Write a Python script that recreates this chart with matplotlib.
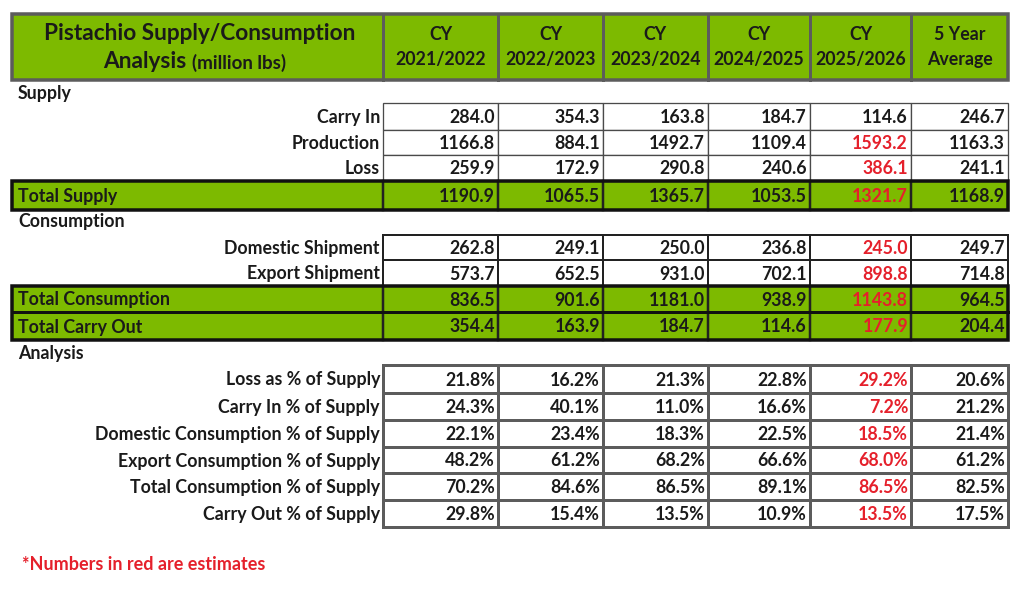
import matplotlib
matplotlib.use("Agg")
import matplotlib.pyplot as plt
from matplotlib.patches import Rectangle

plt.rcParams['font.family'] = ['Lato', 'DejaVu Sans']
plt.rcParams['font.weight'] = 'bold'

title_1 = "Pistachio Supply/Consumption"
title_2a = "Analysis"
title_2b = "(million lbs)"
col_top = ["CY", "CY", "CY", "CY", "CY", "5 Year"]
col_bottom = ["2021/2022", "2022/2023", "2023/2024", "2024/2025", "2025/2026", "Average"]

supply_labels = ["Carry In", "Production", "Loss"]
supply_values = [
    [284.0, 354.3, 163.8, 184.7, 114.6, 246.7],
    [1166.8, 884.1, 1492.7, 1109.4, 1593.2, 1163.3],
    [259.9, 172.9, 290.8, 240.6, 386.1, 241.1],
]
supply_red = [False, True, True]
total_supply = [1190.9, 1065.5, 1365.7, 1053.5, 1321.7, 1168.9]

consumption_labels = ["Domestic Shipment", "Export Shipment"]
consumption_values = [
    [262.8, 249.1, 250.0, 236.8, 245.0, 249.7],
    [573.7, 652.5, 931.0, 702.1, 898.8, 714.8],
]
total_consumption = [836.5, 901.6, 1181.0, 938.9, 1143.8, 964.5]
total_carry_out = [354.4, 163.9, 184.7, 114.6, 177.9, 204.4]

analysis_labels = ["Loss as % of Supply", "Carry In % of Supply",
                   "Domestic Consumption % of Supply", "Export Consumption % of Supply",
                   "Total Consumption % of Supply", "Carry Out % of Supply"]
analysis_values = [
    [21.8, 16.2, 21.3, 22.8, 29.2, 20.6],
    [24.3, 40.1, 11.0, 16.6, 7.2, 21.2],
    [22.1, 23.4, 18.3, 22.5, 18.5, 21.4],
    [48.2, 61.2, 68.2, 66.6, 68.0, 61.2],
    [70.2, 84.6, 86.5, 89.1, 86.5, 82.5],
    [29.8, 15.4, 13.5, 10.9, 13.5, 17.5],
]
estimate_col = 4
footnote = "*Numbers in red are estimates"

GREEN = '#7dba00'
RED = '#e5202b'
INK = '#1a1a1a'
GRAY = '#5c5c5c'
FS = 12.8

x_left = 12
edges = [383, 498, 603, 708, 810, 911, 1008]
PX = 0.72  # points per pixel

fig = plt.figure(figsize=(10.24, 5.97), dpi=100)
ax = fig.add_axes([0, 0, 1, 1])
ax.set_xlim(0, 1024)
ax.set_ylim(597, 0)
ax.axis('off')


def box(x0, y0, x1, y1, fc, ec, lw, z=1):
    ax.add_patch(Rectangle((x0, y0), x1 - x0, y1 - y0, facecolor=fc,
                           edgecolor=ec, linewidth=lw * PX, zorder=z))


def values_row(y0, y1, vals, red, fmt, fc, ec, lw):
    for i, v in enumerate(vals):
        box(edges[i], y0, edges[i + 1], y1, fc, ec, lw, z=2)
        c = RED if (red and i == estimate_col) else INK
        ax.text(edges[i + 1] - 3, (y0 + y1) / 2 + 1, fmt.format(v), ha='right',
                va='center', fontsize=FS, color=c, zorder=5)


# header
box(x_left, 14, edges[-1], 80, GREEN, GRAY, 3.5)
for e in edges[:-1]:
    ax.plot([e, e], [14, 80], color=GRAY, lw=3 * PX, zorder=3)
ax.text((x_left + edges[0]) / 2 + 2, 33, title_1, ha='center', va='center',
        fontsize=16.3, color=INK, zorder=5)
ax.text(186, 62, title_2a, ha='right', va='center', fontsize=16.3, color=INK, zorder=5)
ax.text(192, 63, title_2b, ha='left', va='center', fontsize=13.5, color=INK, zorder=5)
for i in range(6):
    xc = (edges[i] + edges[i + 1]) / 2
    ax.text(xc, 34, col_top[i], ha='center', va='center', fontsize=FS, color=INK, zorder=5)
    ax.text(xc, 60, col_bottom[i], ha='center', va='center', fontsize=FS, color=INK, zorder=5)


def section(y, text):
    ax.text(18, y, text, ha='left', va='center', fontsize=FS, color=INK)


def label(y0, y1, text):
    ax.text(edges[0] - 3, (y0 + y1) / 2 + 1, text, ha='right', va='center',
            fontsize=FS, color=INK)


def total_row(y0, y1, text, vals):
    box(x_left, y0, edges[-1], y1, GREEN, 'none', 0, z=1)
    for i, v in enumerate(vals):
        c = RED if i == estimate_col else INK
        ax.text(edges[i + 1] - 3, (y0 + y1) / 2 + 1, "{:.1f}".format(v), ha='right',
                va='center', fontsize=FS, color=c, zorder=5)
    for e in edges[:-1]:
        ax.plot([e, e], [y0, y1], color='#222222', lw=2.5 * PX, zorder=3)
    ax.text(18, (y0 + y1) / 2 + 1, text, ha='left', va='center', fontsize=FS,
            color=INK, zorder=5)


# supply
section(93, "Supply")
ys = [103, 130, 155, 181]
for k, lab in enumerate(supply_labels):
    label(ys[k], ys[k + 1], lab)
    values_row(ys[k], ys[k + 1], supply_values[k], supply_red[k], "{:.1f}",
               'white', '#4a4a4a', 1.3)
total_row(181, 210, "Total Supply", total_supply)
box(x_left, 181, edges[-1], 210, 'none', '#111111', 3.5, z=4)

# consumption
section(222, "Consumption")
ys = [235, 260, 286]
for k, lab in enumerate(consumption_labels):
    label(ys[k], ys[k + 1], lab)
    values_row(ys[k], ys[k + 1], consumption_values[k], True, "{:.1f}",
               'white', '#222222', 2)
total_row(286, 312, "Total Consumption", total_consumption)
total_row(312, 340, "Total Carry Out", total_carry_out)
box(x_left, 286, edges[-1], 340, 'none', '#111111', 3.5, z=4)
ax.plot([x_left, edges[-1]], [312, 312], color='#111111', lw=3 * PX, zorder=4)

# analysis
section(353, "Analysis")
ys = [365, 393, 420, 447, 473, 500, 527]
for k, lab in enumerate(analysis_labels):
    label(ys[k], ys[k + 1], lab)
    values_row(ys[k], ys[k + 1], analysis_values[k], True, "{:.1f}%",
               'white', GRAY, 3)

ax.text(22, 565, footnote, ha='left', va='center', fontsize=13, color=RED)

fig.savefig("out.png", dpi=100)
